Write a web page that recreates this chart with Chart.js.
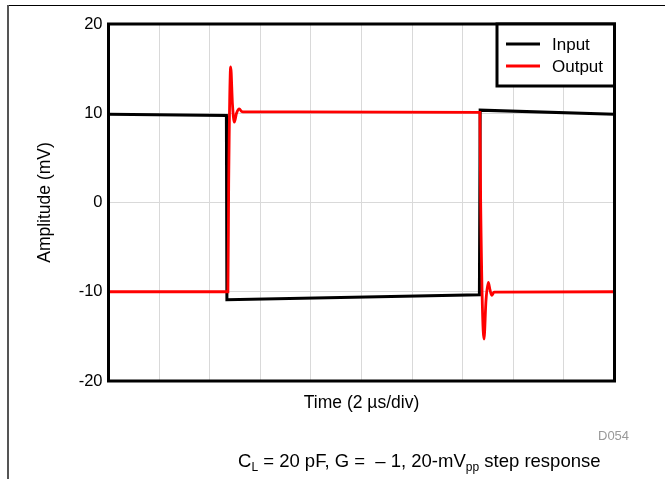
<!DOCTYPE html>
<html>
<head>
<meta charset="utf-8">
<script src="https://cdn.jsdelivr.net/npm/chart.js@4.4.0/dist/chart.umd.min.js"></script>
<style>
    body { margin: 0; background: #fff; font-family: "Liberation Sans", Arial, sans-serif; }
    #wrap { position: relative; width: 665px; height: 479px; overflow: hidden; }
    #stepChart { position: absolute; left: 0; top: 0; }
    .frameTop { position: absolute; left: 9px; top: 5px; width: 656px; height: 1px; background: #000; }
    .frameLeft { position: absolute; left: 7px; top: 5px; width: 2px; height: 474px; background: #555; }
    .code { position: absolute; left: 598px; top: 428px; font-size: 13px; color: #999; }
    .caption { position: absolute; left: 238px; top: 450px; font-size: 18.5px; color: #000; white-space: nowrap; }
    .caption sub { font-size: 12px; vertical-align: -4px; line-height: 0; }
</style>
</head>
<body>
<div id="wrap">
    <canvas id="stepChart" width="665" height="479"></canvas>
    <div class="frameTop"></div>
    <div class="frameLeft"></div>
    <div class="code">D054</div>
    <div class="caption">C<sub>L</sub> = 20 pF, G = &nbsp;&#8211; 1, 20-mV<sub>pp</sub> step response</div>
</div>
<script>
// time in divisions (2 us/div), amplitude in mV
const inputX  = [0, 2.33, 2.34, 7.33, 7.345, 10];
const inputY  = [9.9, 9.75, -10.9, -10.35, 10.35, 9.9];
const outputX = [0, 2.36, 2.375, 2.415, 2.45, 2.486, 2.53, 2.585, 2.63, 2.7, 7.34, 7.355, 7.421, 7.46, 7.506, 7.54, 7.573, 7.62, 10];
const outputY = [-10, -10, 2, 15.2, 11, 9.0, 10.0, 10.5, 10.2, 10.15, 10.1, 0, -15.3, -11, -8.95, -9.8, -10.4, -10.05, -10];
const yTicks = [-20, -10, 0, 10, 20];
const seriesNames = ['Input', 'Output'];
const seriesColors = ['#000000', '#ff0000'];

const toPoints = (xs, ys) => xs.map((x, i) => ({ x: x, y: ys[i] }));
const fontFamily = '"Liberation Sans", Arial, sans-serif';

// plot frame + legend box
const framePlugin = {
    id: 'framePlugin',
    afterDatasetsDraw(chart) {
        const { ctx, chartArea: a } = chart;
        ctx.save();
        ctx.strokeStyle = '#000';
        ctx.lineWidth = 3;
        ctx.strokeRect(a.left, a.top, a.right - a.left, a.bottom - a.top);

        const bx = 497, by = a.top, bw = a.right - bx, bh = 62;
        ctx.fillStyle = '#fff';
        ctx.fillRect(bx, by, bw, bh);
        ctx.strokeRect(bx, by, bw, bh);

        ctx.font = '17px ' + fontFamily;
        ctx.textBaseline = 'middle';
        ctx.textAlign = 'left';
        seriesNames.forEach((name, i) => {
            const y = by + 20 + i * 22;
            ctx.strokeStyle = seriesColors[i];
            ctx.lineWidth = 3;
            ctx.beginPath();
            ctx.moveTo(506, y);
            ctx.lineTo(540, y);
            ctx.stroke();
            ctx.fillStyle = '#000';
            ctx.fillText(name, 552, y + 1);
        });
        ctx.restore();
    }
};

const ctx = document.getElementById('stepChart').getContext('2d');
new Chart(ctx, {
    type: 'line',
    data: {
        datasets: [{
            label: seriesNames[0],
            data: toPoints(inputX, inputY),
            borderColor: seriesColors[0],
            borderWidth: 3,
            pointRadius: 0,
            tension: 0,
            order: 1
        }, {
            label: seriesNames[1],
            data: toPoints(outputX, outputY),
            borderColor: seriesColors[1],
            borderWidth: 2.8,
            pointRadius: 0,
            cubicInterpolationMode: 'monotone',
            order: 0
        }]
    },
    options: {
        responsive: false,
        animation: false,
        layout: { padding: { left: 0, top: 24, right: 50.5, bottom: 0 } },
        plugins: {
            legend: { display: false },
            tooltip: { enabled: false }
        },
        scales: {
            x: {
                type: 'linear',
                min: 0,
                max: 10,
                ticks: { stepSize: 1, display: false },
                grid: { color: '#d9d9d9', drawTicks: false },
                border: { display: false },
                title: {
                    display: true,
                    text: 'Time (2 \u00b5s/div)',
                    color: '#000',
                    font: { family: fontFamily, size: 17.5 },
                    padding: { top: 0, bottom: 65 }
                },
                afterFit(scale) { scale.height = 98; }
            },
            y: {
                type: 'linear',
                min: -20,
                max: 20,
                afterBuildTicks(scale) { scale.ticks = yTicks.map(v => ({ value: v })); },
                ticks: {
                    color: '#000',
                    padding: 6,
                    font: { family: fontFamily, size: 16.5 }
                },
                grid: { color: '#d9d9d9', drawTicks: false },
                border: { display: false },
                title: {
                    display: true,
                    text: 'Amplitude (mV)',
                    color: '#000',
                    font: { family: fontFamily, size: 17.5 },
                    padding: { top: 35, bottom: 0 }
                },
                afterFit(scale) { scale.width = 108.5; }
            }
        }
    },
    plugins: [framePlugin]
});
</script>
</body>
</html>
